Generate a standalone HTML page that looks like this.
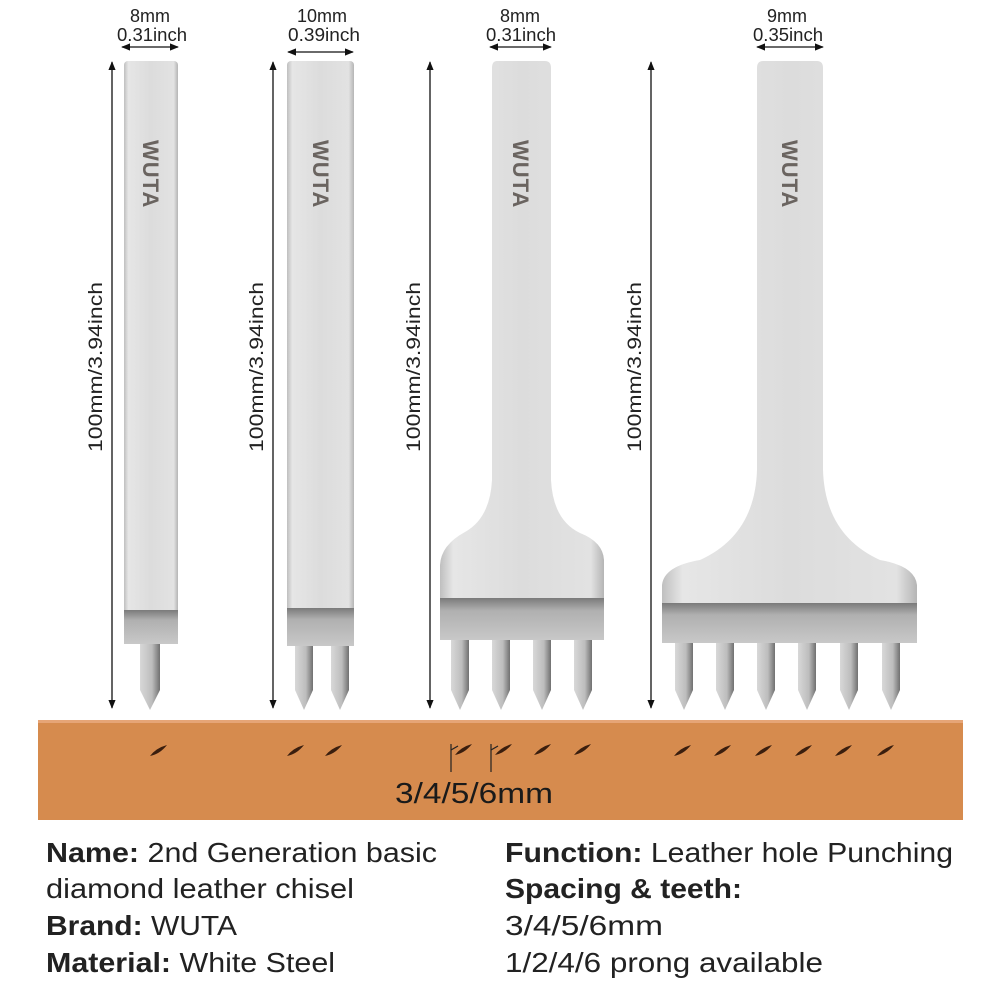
<!DOCTYPE html>
<html><head><meta charset="utf-8"><style>
html,body{margin:0;padding:0;background:#fff;}
svg{display:block}
</style></head><body>
<svg width="1000" height="1000" viewBox="0 0 1000 1000" xmlns="http://www.w3.org/2000/svg" font-family="Liberation Sans, sans-serif">
<defs>
<linearGradient id="st" x1="0" x2="1" y1="0" y2="0">
<stop offset="0" stop-color="#bfbfbf"/><stop offset="0.08" stop-color="#e6e6e6"/><stop offset="0.5" stop-color="#dcdcdc"/><stop offset="0.92" stop-color="#e2e2e2"/><stop offset="1" stop-color="#b5b5b5"/>
</linearGradient>
<linearGradient id="band" x1="0" x2="0" y1="0" y2="1">
<stop offset="0" stop-color="#7a7a7a"/><stop offset="0.3" stop-color="#b0b0b0"/><stop offset="1" stop-color="#c8c8c8"/>
</linearGradient>
<linearGradient id="tooth" x1="0" x2="1">
<stop offset="0" stop-color="#d8d8d8"/><stop offset="0.6" stop-color="#bdbdbd"/><stop offset="1" stop-color="#707070"/>
</linearGradient>
<marker id="ah" viewBox="0 0 10 10" refX="9" refY="5" markerWidth="7" markerHeight="7" orient="auto-start-reverse"><path d="M0,1 L10,5 L0,9 z" fill="#111"/></marker>
</defs>

<g font-size="18" fill="#222" text-anchor="middle">
<text x="150" y="22">8mm</text><text x="152" y="41" textLength="70" lengthAdjust="spacingAndGlyphs">0.31inch</text>
<text x="322" y="22">10mm</text><text x="324" y="41" textLength="72" lengthAdjust="spacingAndGlyphs">0.39inch</text>
<text x="520" y="22">8mm</text><text x="521" y="41" textLength="70" lengthAdjust="spacingAndGlyphs">0.31inch</text>
<text x="787" y="22">9mm</text><text x="788" y="41" textLength="70" lengthAdjust="spacingAndGlyphs">0.35inch</text>
</g>
<g stroke="#111" stroke-width="1.3" marker-start="url(#ah)" marker-end="url(#ah)">
<line x1="122" y1="47" x2="178" y2="47"/>
<line x1="288" y1="52" x2="353" y2="52"/>
<line x1="490" y1="47" x2="551" y2="47"/>
<line x1="757" y1="47" x2="823" y2="47"/>
<line x1="112" y1="62" x2="112" y2="708"/>
<line x1="273" y1="62" x2="273" y2="708"/>
<line x1="430" y1="62" x2="430" y2="708"/>
<line x1="651" y1="62" x2="651" y2="708"/>
</g>
<g font-size="19" fill="#222" text-anchor="middle">
<text transform="translate(102,367) rotate(-90)" textLength="170" lengthAdjust="spacingAndGlyphs">100mm/3.94inch</text>
<text transform="translate(263,367) rotate(-90)" textLength="170" lengthAdjust="spacingAndGlyphs">100mm/3.94inch</text>
<text transform="translate(420,367) rotate(-90)" textLength="170" lengthAdjust="spacingAndGlyphs">100mm/3.94inch</text>
<text transform="translate(641,367) rotate(-90)" textLength="170" lengthAdjust="spacingAndGlyphs">100mm/3.94inch</text>
</g>

<path d="M140,640 L160,640 L160,690 L150,710 L140,690 Z" fill="url(#tooth)"/>
<rect x="124" y="61" width="54" height="555" rx="4" fill="url(#st)"/>
<rect x="124" y="610" width="54" height="34" fill="url(#band)"/>
<path d="M295,640 L313,640 L313,690 L304,710 L295,690 Z" fill="url(#tooth)"/>
<path d="M331,640 L349,640 L349,690 L340,710 L331,690 Z" fill="url(#tooth)"/>
<rect x="287" y="61" width="67" height="555" rx="4" fill="url(#st)"/>
<rect x="287" y="608" width="67" height="38" fill="url(#band)"/>
<g fill="url(#tooth)">
<path d="M451,635 L469,635 L469,690 L460,710 L451,690 Z"/>
<path d="M492,635 L510,635 L510,690 L501,710 L492,690 Z"/>
<path d="M533,635 L551,635 L551,690 L542,710 L533,690 Z"/>
<path d="M574,635 L592,635 L592,690 L583,710 L574,690 Z"/>
</g>
<path d="M497,61 L545,61 Q551,61 551,68 L551,480 Q553,520 580,533 Q603,542 604,560 L604,640 L440,640 L440,565 Q441,545 465,532 Q490,518 492,480 L492,68 Q492,61 497,61 Z" fill="url(#st)"/>
<rect x="440" y="598" width="164" height="42" fill="url(#band)"/>
<g fill="url(#tooth)">
<path d="M675,638 L693,638 L693,690 L684,710 L675,690 Z"/>
<path d="M716,638 L734,638 L734,690 L725,710 L716,690 Z"/>
<path d="M757,638 L775,638 L775,690 L766,710 L757,690 Z"/>
<path d="M798,638 L816,638 L816,690 L807,710 L798,690 Z"/>
<path d="M840,638 L858,638 L858,690 L849,710 L840,690 Z"/>
<path d="M882,638 L900,638 L900,690 L891,710 L882,690 Z"/>
</g>
<path d="M763,61 L817,61 Q823,61 823,68 L823,470 Q825,535 880,560 Q915,566 917,585 L917,640 L662,640 L662,585 Q664,566 700,560 Q755,535 757,470 L757,68 Q757,61 763,61 Z" fill="url(#st)"/>
<rect x="662" y="603" width="255" height="40" fill="url(#band)"/>

<g font-size="22" fill="#6a6460" font-weight="bold" letter-spacing="1">
<text transform="translate(143,140) rotate(90)">WUTA</text>
<text transform="translate(313,140) rotate(90)">WUTA</text>
<text transform="translate(513,140) rotate(90)">WUTA</text>
<text transform="translate(782,140) rotate(90)">WUTA</text>
</g>

<rect x="38" y="720" width="925" height="100" fill="#d68b4e"/>
<rect x="38" y="720" width="925" height="3" fill="#e6a577"/>
<g fill="#3a1e0e">
<path id="s" d="M150,756 Q156,748 167,745 Q160,754 150,756 Z"/>
<use href="#s" x="137" y="0"/><use href="#s" x="175" y="0"/>
<use href="#s" x="305" y="-1"/><use href="#s" x="345" y="-1"/><use href="#s" x="384" y="-1"/><use href="#s" x="424" y="-1"/>
<use href="#s" x="524" y="0"/><use href="#s" x="564" y="0"/><use href="#s" x="605" y="0"/><use href="#s" x="645" y="0"/><use href="#s" x="685" y="0"/><use href="#s" x="727" y="0"/>
</g>
<g stroke="#222" stroke-width="1.2"><line x1="451" y1="744" x2="451" y2="772"/><line x1="491" y1="744" x2="491" y2="772"/><line x1="451" y1="750" x2="458" y2="746"/><line x1="491" y1="750" x2="498" y2="746"/></g>
<text x="395" y="803" font-size="29" fill="#1a1a1a" textLength="158" lengthAdjust="spacingAndGlyphs">3/4/5/6mm</text>

<g font-size="28" fill="#222">
<text x="46" y="862" textLength="391" lengthAdjust="spacingAndGlyphs"><tspan font-weight="bold">Name:</tspan> 2nd Generation basic</text>
<text x="46" y="898" textLength="308" lengthAdjust="spacingAndGlyphs">diamond leather chisel</text>
<text x="46" y="935" textLength="191" lengthAdjust="spacingAndGlyphs"><tspan font-weight="bold">Brand:</tspan> WUTA</text>
<text x="46" y="972" textLength="289" lengthAdjust="spacingAndGlyphs"><tspan font-weight="bold">Material:</tspan> White Steel</text>
<text x="505" y="862" textLength="448" lengthAdjust="spacingAndGlyphs"><tspan font-weight="bold">Function:</tspan> Leather hole Punching</text>
<text x="505" y="898" font-weight="bold" textLength="237" lengthAdjust="spacingAndGlyphs">Spacing &amp; teeth:</text>
<text x="505" y="935" textLength="158" lengthAdjust="spacingAndGlyphs">3/4/5/6mm</text>
<text x="505" y="972" textLength="318" lengthAdjust="spacingAndGlyphs">1/2/4/6 prong available</text>
</g>
</svg>
</body></html>
